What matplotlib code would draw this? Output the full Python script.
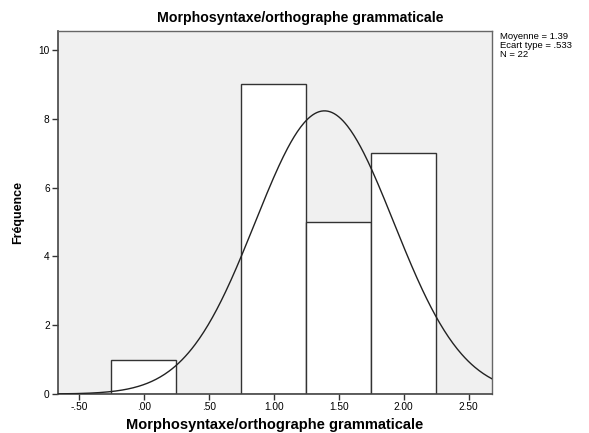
import numpy as np
import matplotlib
matplotlib.use("Agg")
import matplotlib.pyplot as plt

plt.rcParams['font.family'] = ['Liberation Sans', 'DejaVu Sans']

# Histogram data
bin_centers = [0.0, 1.0, 1.5, 2.0]
counts = [1, 9, 5, 7]
bin_width = 0.5
mean = 1.39
std = 0.533
n = 22

xticks = [-0.5, 0.0, 0.5, 1.0, 1.5, 2.0, 2.5]
xtick_labels = ["-.50", ".00", ".50", "1.00", "1.50", "2.00", "2.50"]
yticks = [0, 2, 4, 6, 8, 10]

fig = plt.figure(figsize=(5.89, 4.33), dpi=100)
ax = fig.add_axes([0.0985, 0.090, 0.737, 0.838])
ax.set_facecolor('#f0f0f0')

ax.bar(bin_centers, counts, width=bin_width, color='white', edgecolor='#333333', linewidth=1.0, zorder=2)

# normal curve scaled to counts
xs = np.linspace(-0.66, 2.68, 400)
ys = n * bin_width / (std * np.sqrt(2 * np.pi)) * np.exp(-0.5 * ((xs - mean) / std) ** 2)
ax.plot(xs, ys, color='#222222', linewidth=1.0, zorder=3)

ax.set_xlim(-0.66, 2.68)
ax.set_ylim(0, 10.55)
ax.set_xticks(xticks)
ax.set_xticklabels(xtick_labels)
ax.set_yticks(yticks)
ax.tick_params(axis='both', direction='out', length=4, width=1, labelsize=7.3, color='#333333', pad=2)

for side in ['left', 'bottom']:
    ax.spines[side].set_color('#444444')
    ax.spines[side].set_linewidth(1.2)
for side in ['top', 'right']:
    ax.spines[side].set_color('#666666')
    ax.spines[side].set_linewidth(1.0)

fig.text(0.509, 0.958, "Morphosyntaxe/orthographe grammaticale", fontsize=10.2, fontweight='bold',
         ha='center', va='center')
ax.set_xlabel("Morphosyntaxe/orthographe grammaticale", fontsize=10.5, fontweight='bold', labelpad=4)
ax.set_ylabel("Fréquence", fontsize=9, fontweight='bold', labelpad=10)

fig.text(0.849, 0.925, "Moyenne = 1.39\nEcart type = .533\nN = 22", fontsize=6.8, va='top', ha='left', linespacing=0.95)

fig.savefig("out.png", dpi=100)
